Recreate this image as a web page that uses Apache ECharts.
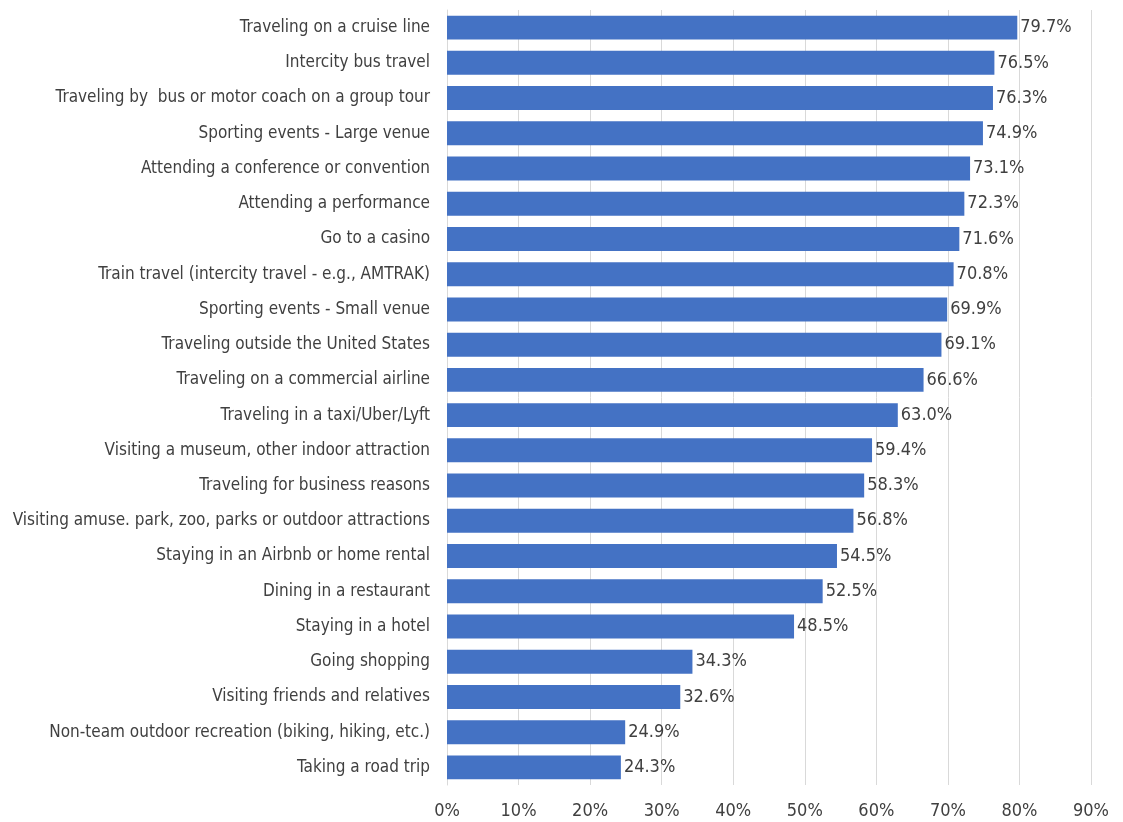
<!DOCTYPE html>
<html><head><meta charset="utf-8">
<script src="https://cdn.jsdelivr.net/npm/echarts@6/dist/echarts.min.js"></script>
<style>html,body{margin:0;padding:0;background:#fff}#c{width:1123px;height:822px}</style>
</head><body><div id="c"></div>
<script>
const categories = [
  "Traveling on a cruise line",
  "Intercity bus travel",
  "Traveling by  bus or motor coach on a group tour",
  "Sporting events - Large venue",
  "Attending a conference or convention",
  "Attending a performance",
  "Go to a casino",
  "Train travel (intercity travel - e.g., AMTRAK)",
  "Sporting events - Small venue",
  "Traveling outside the United States",
  "Traveling on a commercial airline",
  "Traveling in a taxi/Uber/Lyft",
  "Visiting a museum, other indoor attraction",
  "Traveling for business reasons",
  "Visiting amuse. park, zoo, parks or outdoor attractions",
  "Staying in an Airbnb or home rental",
  "Dining in a restaurant",
  "Staying in a hotel",
  "Going shopping",
  "Visiting friends and relatives",
  "Non-team outdoor recreation (biking, hiking, etc.)",
  "Taking a road trip"
];
const values = [79.7, 76.5, 76.3, 74.9, 73.1, 72.3, 71.6, 70.8, 69.9, 69.1, 66.6, 63.0, 59.4, 58.3, 56.8, 54.5, 52.5, 48.5, 34.3, 32.6, 24.9, 24.3];
const FONT = '"DejaVu Sans Condensed",sans-serif';
const chart = echarts.init(document.getElementById('c'), null, {renderer:'canvas'});
chart.setOption({
  animation: false,
  grid: {left: 447, right: 32, top: 10, bottom: 37, containLabel: false, outerBoundsMode: 'none'},
  xAxis: {
    type: 'value', min: 0, max: 90, interval: 10,
    axisLabel: {formatter: '{value}%', color: '#404040', fontSize: 18, fontFamily: FONT, margin: 17},
    axisLine: {show: false}, axisTick: {show: false},
    splitLine: {show: true, lineStyle: {color: '#d9d9d9', width: 1}}
  },
  yAxis: {
    type: 'category', data: categories, inverse: true,
    axisLabel: {color: '#404040', fontSize: 17, fontFamily: FONT, margin: 17},
    axisLine: {show: true, lineStyle: {color: '#d9d9d9'}}, axisTick: {show: false}
  },
  series: [{
    type: 'bar', data: values, barCategoryGap: '32%',
    itemStyle: {color: '#4472C4'},
    label: {show: true, position: 'right', distance: 3, color: '#404040', fontSize: 18, fontFamily: FONT,
      formatter: p => p.value.toFixed(1) + '%'}
  }]
});
</script></body></html>
